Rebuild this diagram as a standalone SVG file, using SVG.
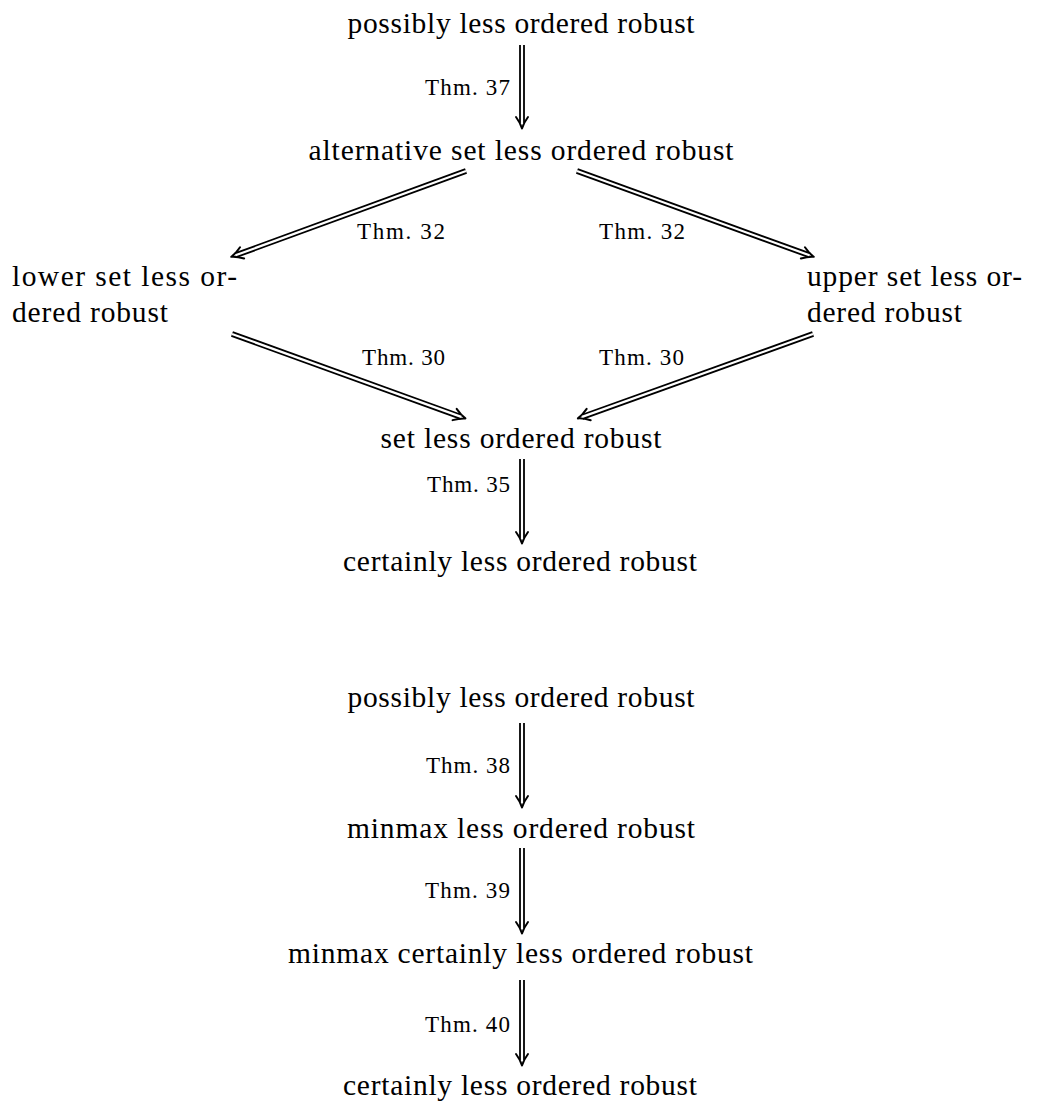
<svg xmlns="http://www.w3.org/2000/svg" width="1037" height="1104" viewBox="0 0 1037 1104">
<style>
.n{font-family:"Liberation Serif","Times New Roman",serif;font-size:29.5px;fill:#000}
.c{text-anchor:middle}
.l{font-family:"Liberation Serif","Times New Roman",serif;font-size:23px;fill:#000}
.r{text-anchor:end}
.o{stroke:#000;stroke-width:5.8;fill:none;marker-end:url(#imp)}
.i{stroke:#fff;stroke-width:2.2;fill:none}
</style>
<defs>
<marker id="imp" markerUnits="userSpaceOnUse" orient="auto" markerWidth="20" markerHeight="20" refX="0" refY="0" viewBox="-10 -10 20 20" overflow="visible">
<path d="M-7,-6 Q-1,-1.6 4.5,0 Q-1,1.6 -7,6" fill="none" stroke="#000" stroke-width="2" stroke-linejoin="round" stroke-linecap="round"/>
</marker>
</defs>
<rect width="1037" height="1104" fill="#fff"/>
<g id="connectors">
<g id="e37"><line class="o" x1="522" y1="45" x2="522" y2="124"/><line class="i" x1="522" y1="45" x2="522" y2="124"/><text class="l r" x="510" y="95" textLength="85">Thm. 37</text></g>
<g id="e32a"><line class="o" x1="466" y1="171" x2="235.5" y2="255.3"/><line class="i" x1="466" y1="171" x2="235.5" y2="255.3"/><text class="l" x="357" y="239" textLength="88">Thm. 32</text></g>
<g id="e32b"><line class="o" x1="577" y1="171" x2="809.5" y2="255.3"/><line class="i" x1="577" y1="171" x2="809.5" y2="255.3"/><text class="l" x="599" y="239" textLength="86">Thm. 32</text></g>
<g id="e30a"><line class="o" x1="232" y1="334" x2="461.2" y2="416.9"/><line class="i" x1="232" y1="334" x2="461.2" y2="416.9"/><text class="l" x="362" y="365" textLength="83">Thm. 30</text></g>
<g id="e30b"><line class="o" x1="813" y1="334" x2="582.1" y2="416.9"/><line class="i" x1="813" y1="334" x2="582.1" y2="416.9"/><text class="l" x="599" y="365" textLength="85">Thm. 30</text></g>
<g id="e35"><line class="o" x1="522" y1="459" x2="522" y2="539"/><line class="i" x1="522" y1="459" x2="522" y2="539"/><text class="l r" x="510" y="492" textLength="83">Thm. 35</text></g>
<g id="e38"><line class="o" x1="522" y1="723" x2="522" y2="803"/><line class="i" x1="522" y1="723" x2="522" y2="803"/><text class="l r" x="510" y="773" textLength="84">Thm. 38</text></g>
<g id="e39"><line class="o" x1="522" y1="848" x2="522" y2="929"/><line class="i" x1="522" y1="848" x2="522" y2="929"/><text class="l r" x="510" y="898" textLength="85">Thm. 39</text></g>
<g id="e40"><line class="o" x1="522" y1="980" x2="522" y2="1061"/><line class="i" x1="522" y1="980" x2="522" y2="1061"/><text class="l r" x="510" y="1032" textLength="85">Thm. 40</text></g>
</g>
<g id="n-possibly1"><text class="n c" x="521" y="33" textLength="347">possibly less ordered robust</text></g>
<g id="n-alternative"><text class="n c" x="521" y="160" textLength="425">alternative set less ordered robust</text></g>
<g id="n-lower"><text class="n" x="12" y="286" textLength="225">lower set less or-</text><text class="n" x="12" y="322" textLength="156">dered robust</text></g>
<g id="n-upper"><text class="n" x="807" y="286" textLength="215">upper set less or-</text><text class="n" x="807" y="322" textLength="155">dered robust</text></g>
<g id="n-set"><text class="n c" x="521" y="448" textLength="281">set less ordered robust</text></g>
<g id="n-certainly1"><text class="n c" x="520" y="571" textLength="354">certainly less ordered robust</text></g>
<g id="n-possibly2"><text class="n c" x="521" y="707" textLength="347">possibly less ordered robust</text></g>
<g id="n-minmax"><text class="n c" x="521" y="838" textLength="348">minmax less ordered robust</text></g>
<g id="n-minmaxcert"><text class="n c" x="520.5" y="963" textLength="465">minmax certainly less ordered robust</text></g>
<g id="n-certainly2"><text class="n c" x="520" y="1095" textLength="354">certainly less ordered robust</text></g>
</svg>
